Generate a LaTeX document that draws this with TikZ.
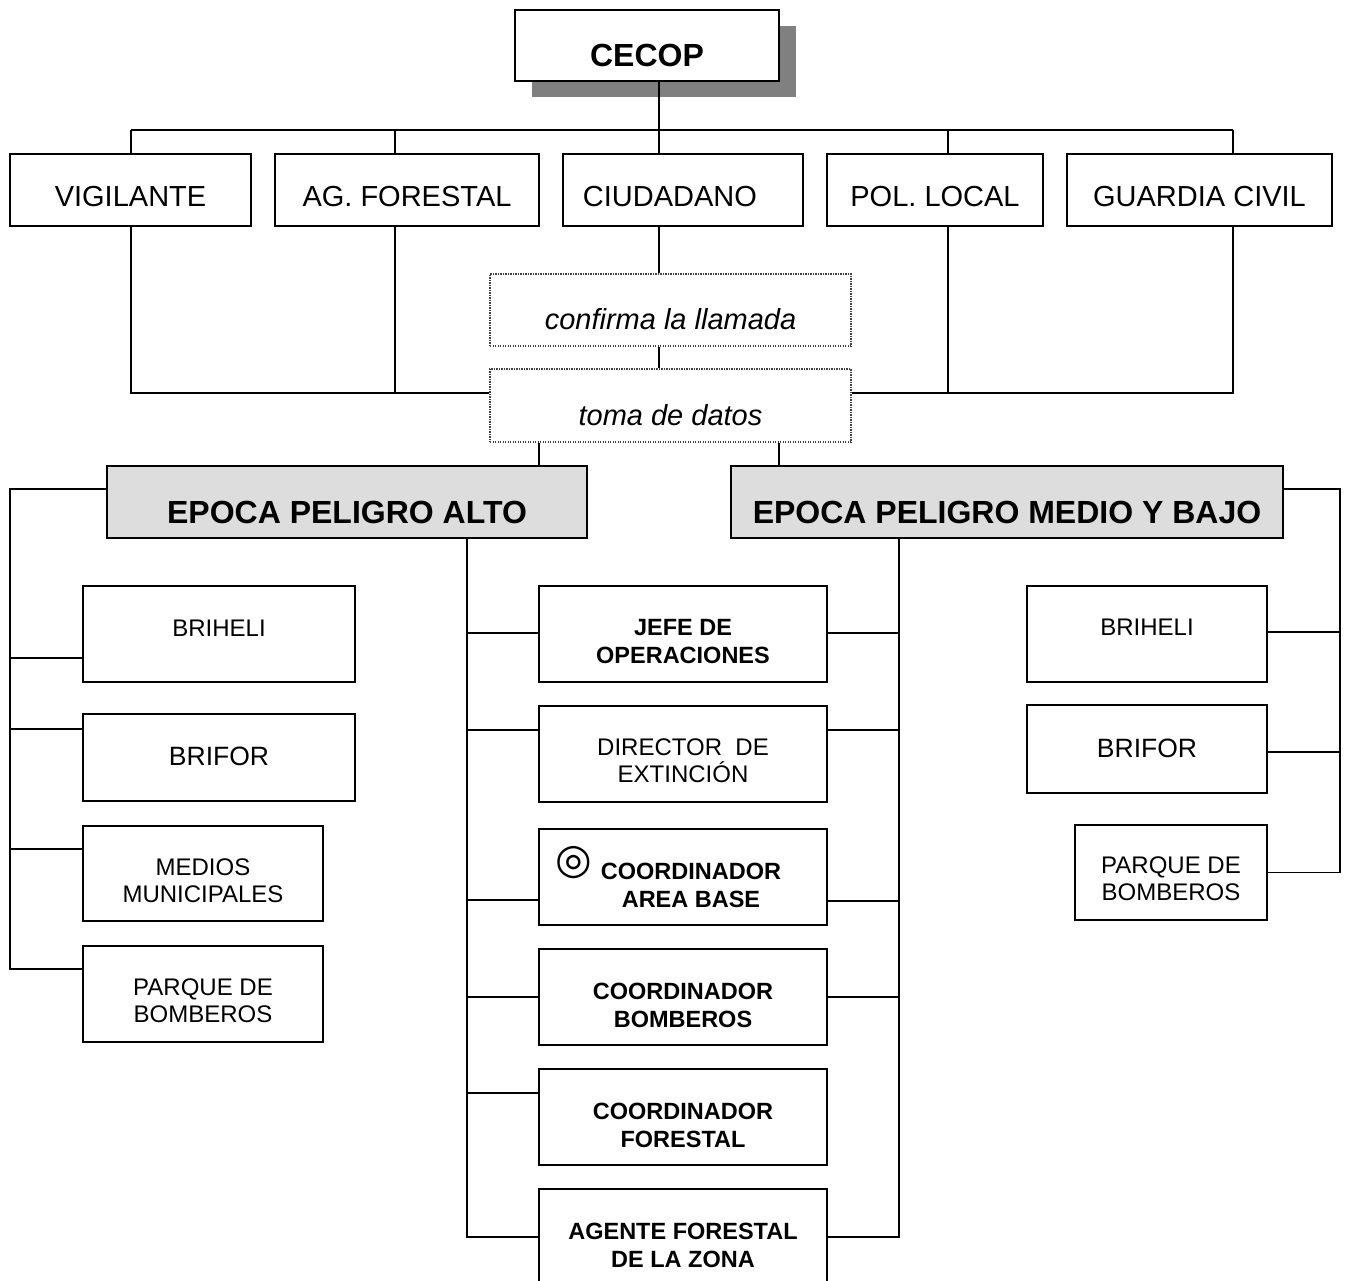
\documentclass[tikz,border=0pt]{standalone}
\usepackage{fontspec}
\setmainfont{Liberation Sans}
\newfontfamily\symfont{DejaVu Sans}
\usetikzlibrary{shadows}
\definecolor{epgray}{RGB}{221,221,221}
\definecolor{shgray}{RGB}{128,128,128}
\begin{document}
\begin{tikzpicture}[x=1pt,y=-1pt,
  box/.style={draw, line width=1.9pt, fill=white, inner sep=0pt},
  epbox/.style={draw, line width=1.9pt, fill=epgray, inner sep=0pt, minimum height=72},
  dotbox/.style={draw=black!75, line width=1.2pt, dash pattern=on 1.2pt off 1.3pt, inner sep=0pt, fill=white},
  ln/.style={line width=1.9pt},
  rowf/.style={font=\fontsize{29}{33}\selectfont},
  bigf/.style={font=\fontsize{32}{36}\selectfont\bfseries},
  itf/.style={font=\fontsize{29}{33}\selectfont\itshape},
  smf/.style={font=\fontsize{24}{27}\selectfont, align=center},
  brf/.style={font=\fontsize{26.5}{30}\selectfont},
  smbf/.style={font=\fontsize{23.5}{28}\selectfont\bfseries, align=center},
  colbox/.style={box, minimum width=288, minimum height=96}
]
\useasboundingbox (0,0) rectangle (1347,1281);

% ---------- top ----------
\node[box, minimum width=264, minimum height=71,
      drop shadow={shadow xshift=17pt, shadow yshift=-16pt, fill=shgray, opacity=1},
      label={[name=cecop-t, bigf, yshift=-10pt]center:CECOP}] (cecop) at (647,45.5) {};

\node[box, minimum width=241, minimum height=72, label={[name=vig-t, rowf, yshift=-7pt]center:VIGILANTE}] (vig) at (130.5,190) {};
\node[box, minimum width=264, minimum height=72, label={[name=ag-t, rowf, yshift=-7pt]center:AG. FORESTAL}] (ag) at (407,190) {};
\node[box, minimum width=240, minimum height=72, label={[name=ciu-t, rowf, yshift=-7pt, xshift=-13pt]center:CIUDADANO}] (ciu) at (683,190) {};
\node[box, minimum width=216, minimum height=72, label={[name=pl-t, rowf, yshift=-7pt]center:POL. LOCAL}] (pl) at (935,190) {};
\node[box, minimum width=265, minimum height=72, label={[name=gc-t, rowf, yshift=-7pt]center:GUARDIA CIVIL}] (gc) at (1199.5,190) {};

\coordinate (b1) at (131,130);
\coordinate (b2) at (395,130);
\coordinate (b3) at (659,130);
\coordinate (b4) at (948,130);
\coordinate (b5) at (1233,130);
\coordinate (lb) at (0,393);

\draw[ln] (b1) -- (b5);
\draw[ln] (cecop.south -| b3) -- (b3);
\foreach \n/\b in {vig/b1, ag/b2, ciu/b3, pl/b4, gc/b5}
  \draw[ln] (\b) -- (\b |- \n.north);

% ---------- dotted boxes ----------
\node[dotbox, minimum width=361, minimum height=72, label={[name=conf-t, itf, yshift=-9pt]center:confirma la llamada}] (conf) at (670.5,310) {};
\node[dotbox, minimum width=361, minimum height=73, label={[name=toma-t, itf, yshift=-10pt]center:toma de datos}] (toma) at (670.5,405.5) {};

\draw[ln] (ciu.south -| b3) -- (conf.north -| b3);
\draw[ln] (conf.south -| b3) -- (toma.north -| b3);
\draw[ln] (vig.south -| b1) -- (b1 |- lb) -- (toma.west |- lb);
\draw[ln] (ag.south -| b2) -- (b2 |- lb);
\draw[ln] (gc.south -| b5) -- (b5 |- lb) -- (toma.east |- lb);
\draw[ln] (pl.south -| b4) -- (b4 |- lb);

% ---------- epoca ----------
\node[epbox, minimum width=480, label={[name=alto-t, bigf, yshift=-10pt]center:EPOCA PELIGRO ALTO}] (alto) at (347,502) {};
\node[epbox, minimum width=552, label={[name=medio-t, bigf, yshift=-10pt]center:EPOCA PELIGRO MEDIO Y BAJO}] (medio) at (1007,502) {};

\coordinate (t1) at (539,0);
\coordinate (t2) at (779,0);
\draw[ln] (toma.south -| t1) -- (alto.north -| t1);
\draw[ln] (toma.south -| t2) -- (medio.north -| t2);

% ---------- left column ----------
\node[box, minimum width=272, minimum height=96, label={[name=lbri-t, smf, yshift=6pt]center:BRIHELI}] (lbri) at (219,634) {};
\node[box, minimum width=272, minimum height=87, label={[name=lbrf-t, brf, yshift=1pt]center:BRIFOR}] (lbrf) at (219,757.5) {};
\node[box, minimum width=240, minimum height=95, label={[name=lmed-t, smf, yshift=-7pt]center:MEDIOS\\MUNICIPALES}] (lmed) at (203,873.5) {};
\node[box, minimum width=240, minimum height=96, label={[name=lpq-t, smf, yshift=-6.5pt]center:PARQUE DE\\BOMBEROS}] (lpq) at (203,994) {};

\draw[ln] ([yshift=25pt]lpq.west) -- ++(-72,0) |- ([yshift=13pt]alto.west);
\draw[ln] ([yshift=-24pt]lbri.west) -- ++(-72,0);
\draw[ln] ([yshift=28.5pt]lbrf.west) -- ++(-72,0);
\draw[ln] ([yshift=24.5pt]lmed.west) -- ++(-72,0);

% ---------- center column ----------
\node[colbox, label={[name=jefe-t, smbf, yshift=-8pt]center:JEFE DE\\OPERACIONES}] (jefe) at (683,634) {};
\node[colbox, label={[name=dir-t, smf, yshift=-6.5pt]center:DIRECTOR\ \ DE\\EXTINCIÓN}] (dir) at (683,754) {};
\node[colbox, label={[name=cab-t, smbf, yshift=-8pt, xshift=8pt]center:\llap{\raisebox{6pt}[0pt][0pt]{\symfont\bfseries\fontsize{42}{42}\selectfont ◎}\hspace{9pt}}COORDINADOR\\AREA BASE}] (cab) at (683,877) {};
\node[colbox, label={[name=cbom-t, smbf, yshift=-8pt]center:COORDINADOR\\BOMBEROS}] (cbom) at (683,997) {};
\node[colbox, label={[name=cfor-t, smbf, yshift=-8pt]center:COORDINADOR\\FORESTAL}] (cfor) at (683,1117) {};
\node[colbox, label={[name=agente-t, smbf, yshift=-8pt]center:AGENTE FORESTAL\\DE LA ZONA}] (agente) at (683,1237) {};

\coordinate (cvl) at (467,0);
\coordinate (cvr) at (899,0);
\draw[ln] (alto.south -| cvl) |- (agente.west);
\draw[ln] (medio.south -| cvr) |- (agente.east);
\draw[ln] ([yshift=1pt]jefe.west) -- ++(-72,0);
\draw[ln] ([yshift=24pt]dir.west) -- ++(-72,0);
\draw[ln] ([yshift=-23pt]cab.west) -- ++(-72,0);
\draw[ln] (cbom.west) -- ++(-72,0);
\draw[ln] ([yshift=24pt]cfor.west) -- ++(-72,0);
\draw[ln] ([yshift=1pt]jefe.east) -- ++(72,0);
\draw[ln] ([yshift=24pt]dir.east) -- ++(72,0);
\draw[ln] ([yshift=-24pt]cab.east) -- ++(72,0);
\draw[ln] (cbom.east) -- ++(72,0);

% ---------- right column ----------
\node[box, minimum width=240, minimum height=96, label={[name=rbri-t, smf, yshift=7pt]center:BRIHELI}] (rbri) at (1147,634) {};
\node[box, minimum width=240, minimum height=88, label={[name=rbrf-t, brf, yshift=1pt]center:BRIFOR}] (rbrf) at (1147,749) {};
\node[box, minimum width=192, minimum height=95, label={[name=rpq-t, smf, yshift=-6.5pt]center:PARQUE DE\\BOMBEROS}] (rpq) at (1171,872.5) {};

\draw[ln] (rpq.east) -- ++(72,0) |- ([yshift=13pt]medio.east);
\draw[ln] ([yshift=2pt]rbri.east) -- ++(72,0);
\draw[ln] ([yshift=-3pt]rbrf.east) -- ++(72,0);
\end{tikzpicture}
\end{document}
